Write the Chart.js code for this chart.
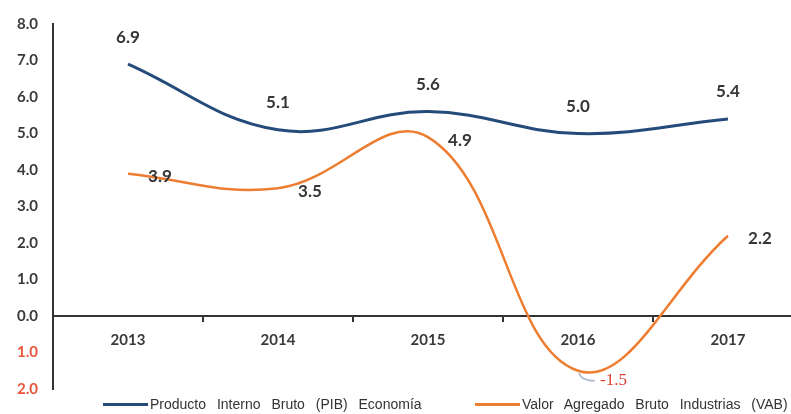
<!DOCTYPE html>
<html>
<head>
<meta charset="utf-8">
<script src="https://cdn.jsdelivr.net/npm/chart.js@4.4.1/dist/chart.umd.min.js"></script>
<style>
  html, body { margin: 0; padding: 0; background: #fff; overflow: hidden; width: 791px; height: 414px; }
  #wrap { position: relative; width: 810px; height: 414px; }
  #legend { position: absolute; left: 0; top: 0; width: 810px; height: 414px; pointer-events: none; }
  .item { position: absolute; top: 396px; display: flex; align-items: center; white-space: nowrap;
          font-family: "Liberation Sans", Arial, sans-serif; font-size: 14px; color: #333; word-spacing: 7px; }
  .item span.sw { display: inline-block; width: 45px; height: 3px; margin-right: 2px; }
</style>
</head>
<body>
<div id="wrap">
  <canvas id="chart" width="810" height="414"></canvas>
  <div id="legend"></div>
</div>
<script>
var years = ['2013', '2014', '2015', '2016', '2017'];
var pib = [6.9, 5.1, 5.6, 5.0, 5.4];
var vab = [3.9, 3.5, 4.9, -1.5, 2.2];
var seriesNames = ['Producto Interno Bruto (PIB) Economía', 'Valor Agregado Bruto Industrias (VAB)'];
var seriesColors = ['#254b7a', '#ed7d31'];

// data labels drawn next to every point
var valueLabels = {
    id: 'valueLabels',
    afterDatasetsDraw: function(chart) {
        var ctx = chart.ctx;
        ctx.save();
        chart.data.datasets.forEach(function(ds, i) {
            var meta = chart.getDatasetMeta(i);
            meta.data.forEach(function(pt, j) {
                var v = ds.data[j];
                var txt = v.toFixed(1);
                if (v < 0) {
                    // leader line + red label
                    ctx.strokeStyle = '#a9b9cb';
                    ctx.lineWidth = 1.5;
                    ctx.beginPath();
                    ctx.moveTo(pt.x + 1, pt.y + 2);
                    ctx.quadraticCurveTo(pt.x + 3, pt.y + 10, pt.x + 17, pt.y + 10);
                    ctx.stroke();
                    ctx.fillStyle = '#e03c31';
                    ctx.font = '17px "Liberation Serif", "Times New Roman", serif';
                    ctx.textAlign = 'left';
                    ctx.textBaseline = 'middle';
                    ctx.fillText(txt, pt.x + 22, pt.y + 10);
                    return;
                }
                ctx.fillStyle = '#363636';
                ctx.font = 'bold 17px Lato, sans-serif';
                ctx.textAlign = 'center';
                ctx.textBaseline = 'middle';
                if (i === 0) {
                    ctx.fillText(txt, pt.x, pt.y - 27);
                } else {
                    ctx.fillText(txt, pt.x + 32, pt.y + 3);
                }
            });
        });
        ctx.restore();
    }
};

var ctx = document.getElementById('chart');
var chart = new Chart(ctx, {
    type: 'line',
    data: {
        labels: years,
        datasets: [{
            label: seriesNames[0],
            data: pib,
            borderColor: seriesColors[0],
            backgroundColor: seriesColors[0],
            borderWidth: 3,
            pointRadius: 0,
            tension: 0.4
        }, {
            label: seriesNames[1],
            data: vab,
            borderColor: seriesColors[1],
            backgroundColor: seriesColors[1],
            borderWidth: 2.5,
            pointRadius: 0,
            tension: 0.4
        }]
    },
    options: {
        responsive: false,
        animation: false,
        devicePixelRatio: 1,
        layout: { padding: { top: 22, right: 7, bottom: 25, left: 0 } },
        plugins: {
            legend: { display: false },
            tooltip: { enabled: false }
        },
        scales: {
            x: {
                position: { y: 0 },
                offset: true,
                grid: { display: true, drawOnChartArea: false, offset: true, tickLength: 5, color: '#333', lineWidth: 2 },
                border: { display: true, color: '#333', width: 2 },
                ticks: {
                    padding: 10,
                    color: '#3a3a3a',
                    font: { family: 'Lato', size: 15, weight: 'bold' }
                }
            },
            y: {
                min: -2,
                max: 8,
                grid: { display: false, drawTicks: false },
                border: { display: true, color: '#333', width: 2 },
                afterFit: function(scale) { scale.width = 53; },
                ticks: {
                    stepSize: 1,
                    padding: 15,
                    font: { family: 'Lato', size: 15, weight: 'bold' },
                    color: function(c) { return c.tick.value < 0 ? '#e8553a' : '#3a3a3a'; },
                    callback: function(v) { return Math.abs(v).toFixed(1); }
                }
            }
        }
    },
    plugins: [valueLabels]
});

// html legend, built from the chart's own legend items
var legendPos = [103, 475];
var leg = document.getElementById('legend');
chart.options.plugins.legend.labels.generateLabels(chart).forEach(function(item, i) {
    var d = document.createElement('div');
    d.className = 'item';
    d.style.left = legendPos[i] + 'px';
    var sw = document.createElement('span');
    sw.className = 'sw';
    sw.style.background = item.strokeStyle;
    d.appendChild(sw);
    d.appendChild(document.createTextNode(item.text));
    leg.appendChild(d);
});
</script>
</body>
</html>
